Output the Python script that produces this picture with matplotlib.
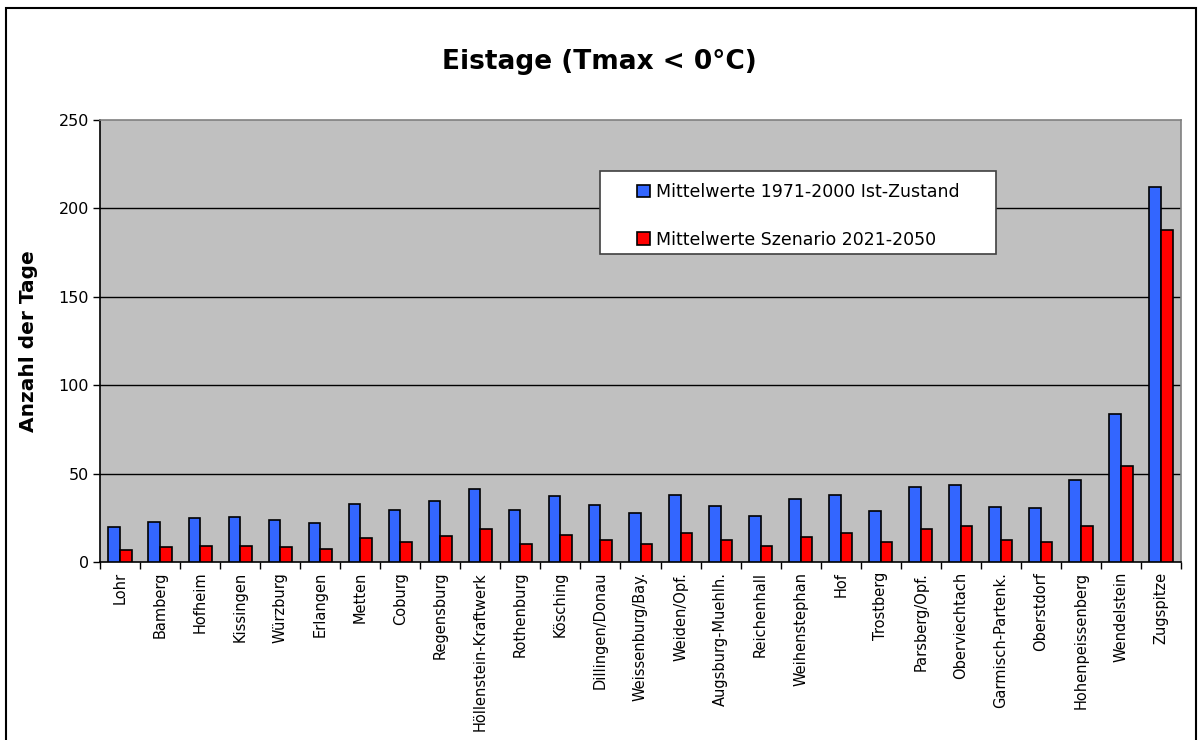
import matplotlib.pyplot as plt
import matplotlib.patches as mpatches
import numpy as np

# Eistage per station
stations = ["Lohr", "Bamberg", "Hofheim", "Kissingen", "Würzburg", "Erlangen",
            "Metten", "Coburg", "Regensburg", "Höllenstein-Kraftwerk", "Rothenburg",
            "Kösching", "Dillingen/Donau", "Weissenburg/Bay.", "Weiden/Opf.",
            "Augsburg-Muehlh.", "Reichenhall", "Weihenstephan", "Hof", "Trostberg",
            "Parsberg/Opf.", "Oberviechtach", "Garmisch-Partenk.", "Oberstdorf",
            "Hohenpeissenberg", "Wendelstein", "Zugspitze"]
ist = [20.0, 22.9, 24.8, 25.2, 24.0, 22.0, 32.6, 29.7, 34.8, 41.1, 29.5, 37.1, 32.0,
       27.7, 37.7, 31.6, 26.3, 35.6, 38.1, 29.0, 42.2, 43.4, 31.3, 30.5, 46.2, 84.0, 211.9]
szenario = [6.8, 8.5, 9.3, 9.3, 8.5, 7.4, 13.8, 11.5, 14.9, 18.6, 10.2, 15.2, 12.5,
            10.2, 16.6, 12.3, 9.3, 14.4, 16.3, 11.4, 18.4, 20.5, 12.7, 11.5, 20.3, 54.4, 187.6]
label_ist = "Mittelwerte 1971-2000 Ist-Zustand"
label_szen = "Mittelwerte Szenario 2021-2050"

fig = plt.figure(figsize=(11.98, 7.40), dpi=100)
ax = fig.add_axes([0.0835, 0.2405, 0.9023, 0.5973])
ax.set_facecolor("#C0C0C0")

x = np.arange(len(stations))
w = 0.29
ax.bar(x - w / 2, ist, w, color="#3366FF", edgecolor="black", linewidth=1.2, zorder=3)
ax.bar(x + w / 2, szenario, w, color="#FF0000", edgecolor="black", linewidth=1.2, zorder=3)

ax.set_xlim(-0.5, len(stations) - 0.5)
ax.set_ylim(0, 250)
ax.set_yticks([0, 50, 100, 150, 200, 250])
ax.tick_params(axis="y", direction="out", length=5, width=1, labelsize=11.5, pad=3)
for yv in [50, 100, 150, 200]:
    ax.axhline(yv, color="black", linewidth=1, zorder=1)

ax.set_xticks(x)
ax.set_xticklabels(stations, rotation=90, fontsize=10.5)
ax.tick_params(axis="x", which="major", length=0, pad=7)
ax.set_xticks(np.arange(len(stations) + 1) - 0.5, minor=True)
ax.tick_params(axis="x", which="minor", direction="out", length=5, width=1)

for s in ["left", "bottom"]:
    ax.spines[s].set_color("black")
    ax.spines[s].set_linewidth(1.2)
for s in ["top", "right"]:
    ax.spines[s].set_color("#808080")
    ax.spines[s].set_linewidth(1.2)

ax.set_ylabel("Anzahl der Tage", fontsize=14.5, fontweight="bold")
ax.yaxis.set_label_coords(-0.057, 0.5)

fig.text(0.5, 0.916, "Eistage (Tmax < 0°C)", ha="center", va="center",
         fontsize=19, fontweight="bold")

# legend box
ax.add_patch(mpatches.Rectangle((0.4625, 0.697), 0.3665, 0.1876, transform=ax.transAxes,
                                facecolor="white", edgecolor="#404040", linewidth=1.2, zorder=4))
handles = [mpatches.Patch(facecolor="#3366FF", edgecolor="black", linewidth=1.2),
           mpatches.Patch(facecolor="#FF0000", edgecolor="black", linewidth=1.2)]
leg = ax.legend(handles, [label_ist, label_szen], loc="center", bbox_to_anchor=(0.646, 0.783),
                frameon=False, fontsize=12.5, handlelength=0.75, handleheight=0.75,
                handletextpad=0.3, labelspacing=1.7)
leg.set_zorder(5)

fig.add_artist(mpatches.Rectangle((0.005, -0.01), 0.993, 0.9992, transform=fig.transFigure,
                                  fill=False, edgecolor="black", linewidth=1.5))

fig.savefig("out.png", dpi=100)
